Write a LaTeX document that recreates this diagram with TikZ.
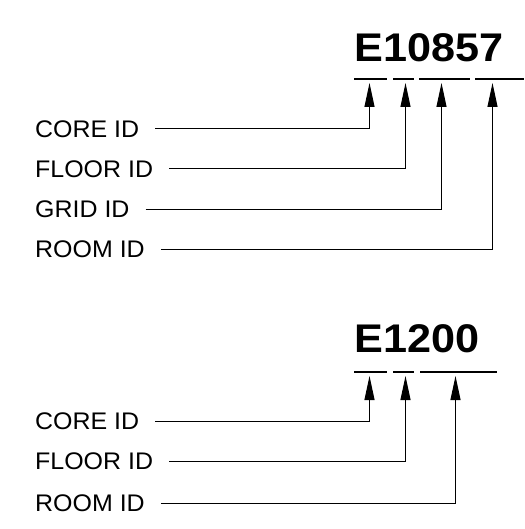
\documentclass[tikz,border=0pt]{standalone}
\usepackage{fontspec}
\setmainfont{Liberation Sans}
\newfontfamily\titlefont[FakeStretch=1.08]{Liberation Sans}
\newfontfamily\labfont[FakeStretch=1.04]{Liberation Sans}
\usetikzlibrary{arrows.meta}
\begin{document}
\begin{tikzpicture}[x=1pt,y=-1pt,
  lab/.style={anchor=west,inner sep=0pt,font=\labfont\fontsize{24}{28}\selectfont},
  code/.style={anchor=base west,inner sep=0pt,font=\titlefont\fontsize{40}{46}\selectfont\bfseries},
  uline/.style={line width=2.5pt},
  conn/.style={line width=1pt,-{Triangle[length=24pt,width=10pt]},shorten <=16pt}]
\useasboundingbox (0,0) rectangle (524,529);
% ---- first code
\node[code] (c1) at (354,62) {E10857};
\draw[uline] (354,79) -- (387,79) (393,79) -- (414,79) (419,79) -- (470,79) (475,79) -- (524,79);
\coordinate (t1) at (369.5,83);
\coordinate (t2) at (405.5,83);
\coordinate (t3) at (441.5,83);
\coordinate (t4) at (492.5,83);
\node[lab] (l1) at (35,129) {CORE ID};
\node[lab] (l2) at (35,169) {FLOOR ID};
\node[lab] (l3) at (35,209) {GRID ID};
\node[lab] (l4) at (35,249) {ROOM ID};
\draw[conn] (l1.east) -| (t1);
\draw[conn] (l2.east) -| (t2);
\draw[conn] (l3.east) -| (t3);
\draw[conn] (l4.east) -| (t4);
% ---- second code
\node[code] (c2) at (354,352) {E1200};
\draw[uline] (354,372) -- (387,372) (393,372) -- (414,372) (420,372) -- (497,372);
\coordinate (u1) at (369.5,376);
\coordinate (u2) at (405.5,376);
\coordinate (u3) at (455.5,376);
\node[lab] (m1) at (35,421) {CORE ID};
\node[lab] (m2) at (35,461) {FLOOR ID};
\node[lab] (m3) at (35,503) {ROOM ID};
\draw[conn] (m1.east) -| (u1);
\draw[conn] (m2.east) -| (u2);
\draw[conn] (m3.east) -| (u3);
\end{tikzpicture}
\end{document}
